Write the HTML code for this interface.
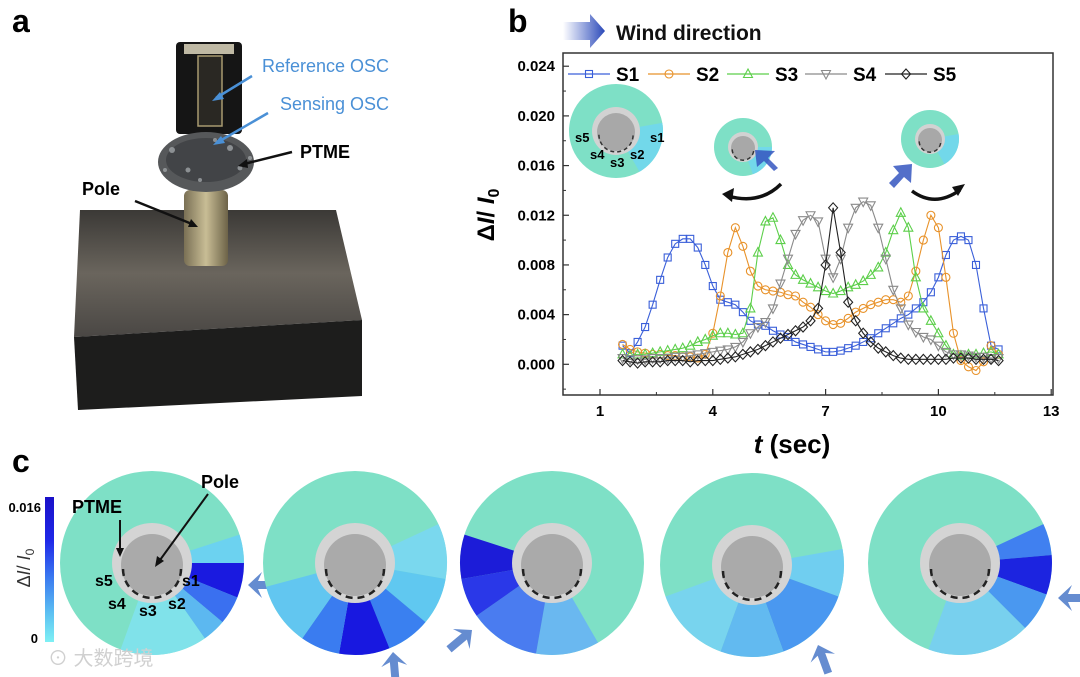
<!DOCTYPE html>
<html><head><meta charset="utf-8"><style>
html,body{margin:0;padding:0;background:#fff;}
svg{display:block;font-family:"Liberation Sans","Noto Sans CJK SC",sans-serif;}
</style></head><body>
<svg id="fig" width="1080" height="677" viewBox="0 0 1080 677" xmlns="http://www.w3.org/2000/svg">
<defs>
<linearGradient id="topface" x1="0" y1="0" x2="0" y2="1"><stop offset="0" stop-color="#3b3936"/><stop offset="0.5" stop-color="#6a655d"/><stop offset="1" stop-color="#4a4744"/></linearGradient>
<linearGradient id="pole" x1="0" y1="0" x2="1" y2="0"><stop offset="0" stop-color="#7a7055"/><stop offset="0.5" stop-color="#c8bd95"/><stop offset="1" stop-color="#6d6348"/></linearGradient>
<linearGradient id="windg" x1="0" y1="0" x2="1" y2="0"><stop offset="0" stop-color="#3050c0" stop-opacity="0"/><stop offset="1" stop-color="#2a48b8"/></linearGradient>
<linearGradient id="cbar" x1="0" y1="0" x2="0" y2="1"><stop offset="0" stop-color="#1a10c8"/><stop offset="0.3" stop-color="#1f28e8"/><stop offset="0.55" stop-color="#3a78f0"/><stop offset="0.8" stop-color="#5cc0f2"/><stop offset="1" stop-color="#7ef0f4"/></linearGradient>
</defs>

<!-- Panel a -->
<g>
<text x="12" y="32" font-size="32" font-weight="bold">a</text>
<polygon points="80,210 336,210 362,320 74,337" fill="url(#topface)"/>
<polygon points="74,337 362,320 362,396 78,410" fill="#1d1d1c"/>
<rect x="184" y="190" width="44" height="76" fill="url(#pole)" rx="6"/>
<rect x="176" y="42" width="66" height="92" fill="#151515" rx="4"/>
<rect x="184" y="44" width="50" height="10" fill="#bfb9a4"/>
<rect x="198" y="56" width="24" height="70" fill="#2a2823" stroke="#a89a70" stroke-width="1.5"/>
<ellipse cx="206" cy="162" rx="48" ry="30" fill="#56585a"/>
<ellipse cx="206" cy="160" rx="40" ry="22" fill="#3a3c3e" opacity="0.7"/>
<g fill="#9fa3a6" opacity="0.8">
<circle cx="172" cy="150" r="3"/><circle cx="188" cy="170" r="2.5"/><circle cx="230" cy="148" r="3"/><circle cx="240" cy="168" r="2.5"/><circle cx="200" cy="180" r="2"/><circle cx="215" cy="140" r="2"/><circle cx="165" cy="170" r="2"/><circle cx="250" cy="158" r="2"/></g>
<text x="262" y="72" font-size="18" fill="#4a90d6">Reference OSC</text>
<text x="280" y="110" font-size="18" fill="#4a90d6">Sensing OSC</text>
<line x1="252" y1="76" x2="216" y2="98" stroke="#4a90d6" stroke-width="2.5"/><polygon points="212,101 220,92 224,99" fill="#4a90d6"/>
<line x1="268" y1="113" x2="218" y2="142" stroke="#4a90d6" stroke-width="2.5"/><polygon points="213,145 221,136 225,143" fill="#4a90d6"/>
<text x="300" y="158" font-size="18" font-weight="bold">PTME</text>
<line x1="292" y1="152" x2="244" y2="164" stroke="#111" stroke-width="2.5"/><polygon points="238,166 247,159 248,168" fill="#111"/>
<text x="82" y="195" font-size="18" font-weight="bold">Pole</text>
<line x1="135" y1="201" x2="192" y2="224" stroke="#111" stroke-width="2.5"/><polygon points="198,227 188,227 191,219" fill="#111"/>
</g>

<!-- Panel b -->
<g>
<text x="508" y="32" font-size="32" font-weight="bold">b</text>
<polygon points="563,22 590,22 590,14 605,31 590,48 590,40 563,40" fill="url(#windg)"/>
<text x="616" y="40" font-size="21" font-weight="bold" fill="#111">Wind direction</text>
<rect x="563" y="53" width="490" height="342" fill="none" stroke="#333" stroke-width="1.5"/>
<g id="axes"></g>
<g id="insets"></g>
<g id="series"></g>
<g id="legend"></g>
<text transform="translate(494,215) rotate(-90)" text-anchor="middle" font-size="24" font-weight="bold">Δ<tspan font-style="italic">I</tspan>/ <tspan font-style="italic">I</tspan><tspan font-size="16" dy="5">0</tspan></text>
<text x="792" y="453" text-anchor="middle" font-size="26" font-weight="bold"><tspan font-style="italic">t</tspan> (sec)</text>
</g>

<!-- Panel c -->
<g>
<text x="12" y="472" font-size="32" font-weight="bold">c</text>
<rect x="45" y="497" width="9" height="145" fill="url(#cbar)"/>
<text x="41" y="512" font-size="13" font-weight="bold" text-anchor="end">0.016</text>
<text x="38" y="643" font-size="13" font-weight="bold" text-anchor="end">0</text>
<text transform="translate(30,568) rotate(-90)" text-anchor="middle" font-size="18" fill="#333">Δ<tspan font-style="italic">I</tspan>/ <tspan font-style="italic">I</tspan><tspan font-size="12" dy="4">0</tspan></text>
<g id="disks"></g>
<text x="72" y="513" font-size="18" font-weight="bold">PTME</text>
<line x1="120" y1="520" x2="120" y2="550" stroke="#111" stroke-width="2"/><polygon points="116,548 124,548 120,557" fill="#111"/>
<text x="201" y="488" font-size="18" font-weight="bold">Pole</text>
<line x1="208" y1="494" x2="160" y2="560" stroke="#111" stroke-width="2"/><polygon points="155,567 157,556 164,561" fill="#111"/>
<text x="95" y="586" font-size="16" font-weight="bold">s5</text>
<text x="182" y="586" font-size="16" font-weight="bold">s1</text>
<text x="108" y="609" font-size="16" font-weight="bold">s4</text>
<text x="139" y="616" font-size="16" font-weight="bold">s3</text>
<text x="168" y="609" font-size="16" font-weight="bold">s2</text>
<text x="48" y="665" font-size="20" fill="#d0d0d0">⊙ 大数跨境</text>
</g>
</svg>
<script>
const times = [];
for (let i = 0; i <= 50; i++) times.push(1.6 + 0.2 * i);
const s1 = [1.5,0.9,1.8,3.0,4.8,6.8,8.6,9.7,10.1,10.1,9.4,8.0,6.3,5.2,5.0,4.8,4.2,3.5,3.2,3.1,2.7,2.4,2.2,1.8,1.6,1.4,1.2,1.0,1.0,1.1,1.3,1.5,1.8,2.1,2.5,2.9,3.3,3.7,4.0,4.5,5.0,5.8,7.0,8.8,10.0,10.3,10.0,8.0,4.5,1.5,1.2];
const s2 = [1.6,1.2,1.0,0.9,0.8,0.8,0.7,0.7,0.6,0.6,0.5,0.8,2.5,5.5,9.0,11.0,9.5,7.5,6.3,6.0,5.9,5.8,5.6,5.5,5.0,4.6,4.0,3.5,3.2,3.3,3.7,4.2,4.5,4.8,5.0,5.2,5.2,5.0,5.5,7.5,10.0,12.0,11.0,7.0,2.5,0.3,-0.2,-0.5,0.2,1.5,0.8];
const s3 = [0.8,0.7,0.8,0.8,0.9,1.0,1.1,1.2,1.3,1.5,1.8,2.0,2.3,2.5,2.5,2.4,2.5,4.5,9.0,11.5,11.8,10.0,8.0,7.2,6.8,6.5,6.2,5.9,5.7,5.9,6.2,6.4,6.7,7.2,7.8,9.0,10.8,12.2,11.0,7.0,4.5,3.5,2.5,1.5,0.8,0.7,0.8,0.8,0.9,1.0,0.8];
const s4 = [0.5,0.4,0.4,0.4,0.5,0.5,0.5,0.6,0.6,0.7,0.8,0.9,1.0,1.1,1.2,1.4,1.8,2.5,3.0,3.4,4.5,6.5,8.5,10.5,11.6,12.0,11.5,8.5,7.0,8.5,11.0,12.6,13.1,12.8,11.0,8.5,6.0,4.5,3.2,2.6,2.2,2.0,1.5,1.0,0.8,0.8,0.7,0.6,0.6,0.5,0.5];
const s5 = [0.3,0.2,0.1,0.2,0.2,0.2,0.3,0.3,0.3,0.2,0.3,0.3,0.3,0.4,0.5,0.6,0.8,1.0,1.2,1.5,1.8,2.1,2.4,2.7,3.0,3.5,4.5,8.0,12.6,9.0,5.0,3.5,2.5,1.8,1.3,1.0,0.7,0.5,0.4,0.4,0.4,0.4,0.4,0.4,0.5,0.5,0.5,0.4,0.4,0.4,0.3];
const seriesNames = ["S1","S2","S3","S4","S5"];
const seriesColors = ["#3a5fd9","#e8922a","#5ccf4a","#8a8a8a","#222222"];
const seriesMarkers = ["square","circle","tri-up","tri-down","diamond"];
const xTicks = [1,4,7,10,13];
const yTicks = [0,0.004,0.008,0.012,0.016,0.020,0.024];
const yTickLabels = ["0.000","0.004","0.008","0.012","0.016","0.020","0.024"];

const NS = "http://www.w3.org/2000/svg";
function mk(tag, attrs, parent){const e=document.createElementNS(NS,tag);for(const k in attrs)e.setAttribute(k,attrs[k]);if(parent)parent.appendChild(e);return e;}
const X = t => 600 + (t - 1) * 37.6;
const Y = v => 364.3 - v * 12420;
const Yk = v => Y(v / 1000);

const axes = document.getElementById('axes');
xTicks.forEach((t,i)=>{
  mk('line',{x1:X(t),x2:X(t),y1:395,y2:389,stroke:'#333','stroke-width':1.2},axes);
  const tx = mk('text',{x:X(t),y:416,'text-anchor':'middle','font-size':15,'font-weight':'bold'},axes);
  tx.textContent = t;
  
  
  if(i<xTicks.length-1) mk('line',{x1:X(t+1.5),x2:X(t+1.5),y1:395,y2:392,stroke:'#333'},axes);
});
yTicks.forEach((v,i)=>{
  mk('line',{x1:563,x2:569,y1:Y(v),y2:Y(v),stroke:'#333','stroke-width':1.2},axes);
  mk('line',{x1:563,x2:566,y1:Y(v-0.002),y2:Y(v-0.002),stroke:'#333'},axes);
  const tx = mk('text',{x:555,y:Y(v)+5,'text-anchor':'end','font-size':15,'font-weight':'bold'},axes);
  tx.textContent = yTickLabels[i];
  
  
});

function marker(g,kind,x,y,c){
  const a={fill:'none',stroke:c,'stroke-width':1.1};
  if(kind==='square') return mk('rect',Object.assign({x:x-3.5,y:y-3.5,width:7,height:7},a),g);
  if(kind==='circle') return mk('circle',Object.assign({cx:x,cy:y,r:4},a),g);
  if(kind==='tri-up') return mk('polygon',Object.assign({points:`${x},${y-5} ${x+4.5},${y+3.5} ${x-4.5},${y+3.5}`},a),g);
  if(kind==='tri-down') return mk('polygon',Object.assign({points:`${x},${y+5} ${x+4.5},${y-3.5} ${x-4.5},${y-3.5}`},a),g);
  return mk('polygon',Object.assign({points:`${x},${y-5} ${x+4.5},${y} ${x},${y+5} ${x-4.5},${y}`},a),g);
}
const seriesG = document.getElementById('series');
[s1,s2,s3,s4,s5].forEach((data,si)=>{
  const g = mk('g',{},seriesG);
  
  
  const pts = data.map((v,i)=>X(times[i])+','+Yk(v)).join(' ');
  mk('polyline',{points:pts,fill:'none',stroke:seriesColors[si],'stroke-width':1.1},g);
  data.forEach((v,i)=>{
    const m = marker(g,seriesMarkers[si],X(times[i]),Yk(v),seriesColors[si]);
    
    
  });
});
const leg = document.getElementById('legend');
const legX = [568,648,727,805,885];
seriesNames.forEach((n,i)=>{
  const g = mk('g',{},leg);
  
  
  mk('line',{x1:legX[i],x2:legX[i]+42,y1:74,y2:74,stroke:seriesColors[i],'stroke-width':1.2},g);
  marker(g,seriesMarkers[i],legX[i]+21,74,seriesColors[i]);
  const t = mk('text',{x:legX[i]+48,y:81,'font-size':19,'font-weight':'bold'},g);
  t.textContent = n;
});

const ins = document.getElementById('insets');
function smallDisk(g,cx,cy,r,ri,rd,wedge){
  mk('circle',{cx,cy,r,fill:'#7ee0c6'},g);
  if(wedge){
    const [a0,a1,col]=wedge, rad=Math.PI/180;
    mk('path',{d:`M${cx},${cy} L${cx+r*Math.cos(a0*rad)},${cy+r*Math.sin(a0*rad)} A${r},${r} 0 0 1 ${cx+r*Math.cos(a1*rad)},${cy+r*Math.sin(a1*rad)} Z`,fill:col},g);
  }
  mk('circle',{cx,cy,r:ri,fill:'#d2d2d2'},g);
  mk('circle',{cx,cy:cy+1,r:rd,fill:'#a8a8a8'},g);
  mk('path',{d:`M${cx-rd*0.9},${cy+rd*0.2} A${rd*0.9},${rd*0.9} 0 0 0 ${cx+rd*0.9},${cy+rd*0.2}`,fill:'none',stroke:'#333','stroke-width':1.5,'stroke-dasharray':'4,3'},g);
}
const i1 = mk('g',{},ins);  
smallDisk(i1,616,131,47,24,19,[-10,60,'#72d8ea']);
[['s5',575,142],['s1',650,142],['s4',590,159],['s3',610,167],['s2',630,159]].forEach(a=>{const t=mk('text',{x:a[1],y:a[2],'font-size':13,'font-weight':'bold'},i1);t.textContent=a[0];});
const i2 = mk('g',{},ins);  
smallDisk(i2,743,147,29,15,12,[0,70,'#72d8ea']);
const i3 = mk('g',{},ins);  
smallDisk(i3,930,139,29,15,12,[-10,60,'#72d8ea']);
mk('path',{d:'M781,184 Q760,205 728,196',fill:'none',stroke:'#111','stroke-width':3.5},ins);
mk('polygon',{points:'722,194 734,188 732,202',fill:'#111'},ins);
mk('path',{d:'M912,191 Q935,208 960,190',fill:'none',stroke:'#111','stroke-width':3.5},ins);
mk('polygon',{points:'965,184 958,196 952,187',fill:'#111'},ins);
mk('polygon',{points:'778,168 768,158 775,151 755,150 757,167 764,161 774,171',fill:'#3556c0',opacity:0.85},ins);
mk('polygon',{points:'889,183 899,173 893,166 912,164 911,183 904,177 894,188',fill:'#3556c0',opacity:0.85},ins);

const disksG = document.getElementById('disks');
const diskCenters = [[152,563],[355,563],[552,563],[752,565],[960,563]];
const diskWedges = [
 [[-18,0,'#6cd2f0'],[0,22,'#1a1ae0'],[22,40,'#3a70f0'],[40,55,'#5cb8f0'],[55,110,'#80e2ea']],
 [[-25,10,'#7ad8ee'],[10,40,'#60c8f0'],[40,68,'#3a80f0'],[68,100,'#1818e0'],[100,125,'#3a7cf0'],[125,165,'#62c6f0']],
 [[60,100,'#6ab8f0'],[100,145,'#4a7cf0'],[145,170,'#2a38e8'],[170,198,'#1c1cd8']],
 [[-10,20,'#70cef0'],[20,70,'#4a98f0'],[70,110,'#62baf0'],[110,160,'#78d4ee']],
 [[-25,-5,'#4080f0'],[-5,20,'#1c24e0'],[20,45,'#4a98f0'],[45,110,'#78d0ee']]
];
const arrowPos = [[248,585,180],[393,652,-95],[472,630,-40],[818,645,-110],[1058,598,180]];
diskCenters.forEach((c,di)=>{
  const g = mk('g',{},disksG);
  
  
  const [cx,cy]=c, r=92, rad=Math.PI/180;
  mk('circle',{cx,cy,r,fill:'#7ee0c6'},g);
  diskWedges[di].forEach(w=>{
    mk('path',{d:`M${cx},${cy} L${cx+r*Math.cos(w[0]*rad)},${cy+r*Math.sin(w[0]*rad)} A${r},${r} 0 0 1 ${cx+r*Math.cos(w[1]*rad)},${cy+r*Math.sin(w[1]*rad)} Z`,fill:w[2]},g);
  });
  mk('circle',{cx,cy,r:40,fill:'#d4d4d4'},g);
  mk('circle',{cx,cy:cy+2,r:31,fill:'#aaaaaa'},g);
  mk('path',{d:`M${cx-29},${cy+6} A29,29 0 0 0 ${cx+29},${cy+6}`,fill:'none',stroke:'#222','stroke-width':2.5,'stroke-dasharray':'7,5'},g);
  const [ax,ay,ang]=arrowPos[di];
  const a = mk('polygon',{points:'0,0 -14,-13 -10,-4 -30,-4 -30,4 -10,4 -14,13',fill:'#4a78c8',opacity:0.85,transform:`translate(${ax},${ay}) rotate(${ang})`},g);
  
  
});
</script>
</body></html>
